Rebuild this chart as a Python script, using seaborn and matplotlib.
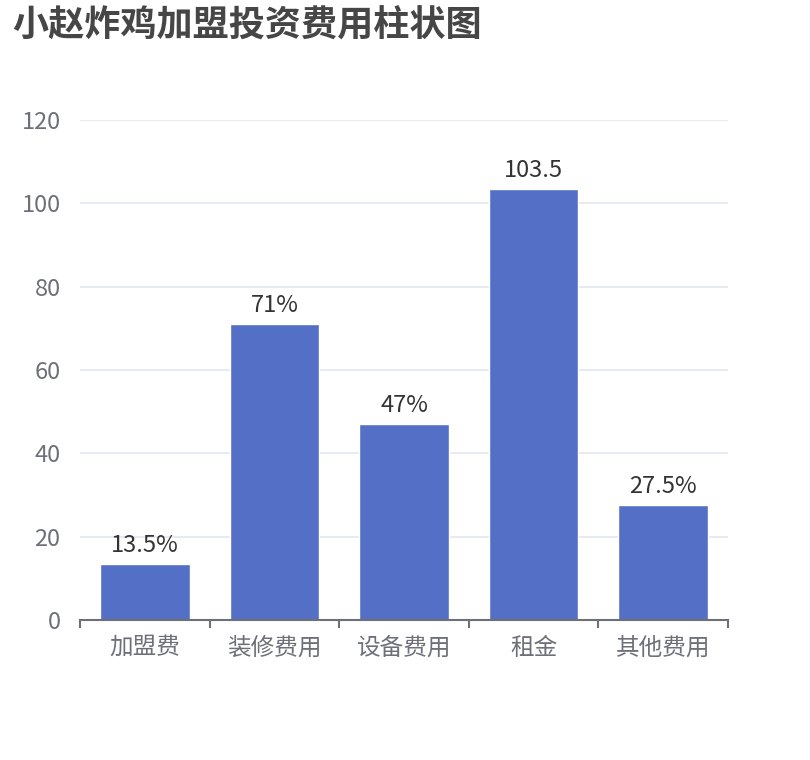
import matplotlib
matplotlib.use('Agg')
import matplotlib.pyplot as plt
import seaborn as sns
import numpy as np

# chart data
categories = ['加盟费', '装修费用', '设备费用', '租金', '其他费用']
values = [13.5, 71, 47, 103.5, 27.5]
bar_labels = ['13.5%', '71%', '47%', '103.5', '27.5%']
y_ticks = [0, 20, 40, 60, 80, 100, 120]

sns.set_style('white')
plt.rcParams['font.family'] = ['Noto Sans CJK SC', 'DejaVu Sans']

fig = plt.figure(figsize=(8.1, 7.6), dpi=100)
ax = fig.add_axes([80 / 810, 1 - 620 / 760, 648 / 810, 500 / 760])

sns.barplot(x=categories, y=values, color='#5470C6', saturation=1,
            width=0.69, ax=ax, zorder=3)

ax.bar_label(ax.containers[0], labels=bar_labels, padding=5,
             fontsize=17, color='#333333')

# axes styling
ax.set_ylim(0, 120)
ax.set_yticks(y_ticks)
ax.set_xlim(-0.5, len(categories) - 0.5)
ax.grid(axis='y', color='#E0E6F1', linewidth=1.2, zorder=0)
ax.grid(axis='x', visible=False)
for side in ['left', 'right', 'top']:
    ax.spines[side].set_visible(False)
ax.spines['bottom'].set_color('#6E7079')
ax.spines['bottom'].set_linewidth(1.5)
ax.spines['bottom'].set_zorder(4)

ax.tick_params(axis='y', length=0, pad=14, labelsize=17, labelcolor='#6E7079')
ax.tick_params(axis='x', length=0, pad=12, labelsize=17, labelcolor='#6E7079')
ax.set_xticks(np.arange(-0.5, len(categories)), minor=True)
ax.tick_params(axis='x', which='minor', bottom=True, length=6, width=1.5,
               color='#6E7079', direction='out')
ax.set_xlabel('')
ax.set_ylabel('')

fig.text(12 / 810, 1 - 8 / 760, '小赵炸鸡加盟投资费用柱状图', ha='left', va='top',
         fontsize=26, fontweight='bold', color='#464646')

fig.savefig('out.png', dpi=100)
